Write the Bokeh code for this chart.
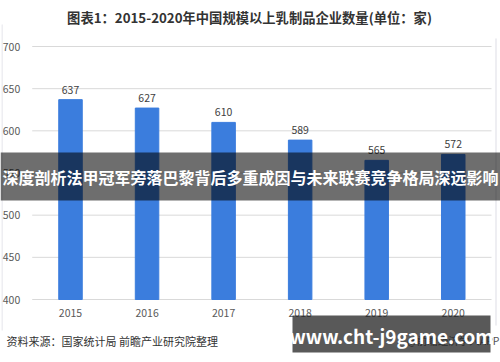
from bokeh.plotting import figure
from bokeh.models import ColumnDataSource, BoxAnnotation, Label, Range1d
from bokeh.embed import file_html
from bokeh.resources import INLINE
from bokeh.core.properties import value

years = ["2015", "2016", "2017", "2018", "2019", "2020"]
counts = [637, 627, 610, 589, 565, 572]
y_ticks = [400, 450, 500, 550, 600, 650, 700]
labels = [str(c) for c in counts]

title_text = "图表1：2015-2020年中国规模以上乳制品企业数量(单位：家)"
source_text = "资料来源：国家统计局 前瞻产业研究院整理"
band_text = "深度剖析法甲冠军旁落巴黎背后多重成因与未来联赛竞争格局深远影响"
site_text = "www.cht-j9game.com"
app_text = "@前瞻经济学人APP"

FONT = "Noto Sans CJK SC"
W, H = 500, 362

# plot area (canvas pixels) used only to set the ranges
PX0, STEP = 70.0, 76.55          # first bar centre, spacing (px)
PY_LO, PY_HI = 299.0, 46.0       # pixel rows of y=400 and y=700
y_lo, y_hi = y_ticks[0], y_ticks[-1]
ppu = (PY_LO - PY_HI) / (y_hi - y_lo)

n = len(years)
xs = list(range(n))
src = ColumnDataSource(dict(x=xs, top=counts, label=labels, year=years,
                            base=[y_lo] * n))

p = figure(width=W, height=H,
           x_range=Range1d(-PX0 / STEP, (W - PX0) / STEP),
           y_range=Range1d(y_lo - (H - PY_LO) / ppu, y_hi + PY_HI / ppu),
           output_backend="svg", toolbar_location=None,
           min_border=0, x_axis_type=None, y_axis_type=None)
p.outline_line_color = None
p.grid.visible = False
p.background_fill_color = "white"
p.border_fill_color = "white"

# faint page borders
p.add_layout(BoxAnnotation(left=1, right=2.5, top=H - 24, bottom=H - 330,
                           left_units="screen", right_units="screen", top_units="screen", bottom_units="screen",
                           fill_color="#EEEEF2", fill_alpha=1, line_color=None, level="underlay"))
p.add_layout(BoxAnnotation(left=494.5, right=496.5, top=H - 38, bottom=H - 325,
                           left_units="screen", right_units="screen", top_units="screen", bottom_units="screen",
                           fill_color="#EEEEF2", fill_alpha=1, line_color=None, level="underlay"))

# gridlines
gsrc = ColumnDataSource(dict(y=y_ticks, x0=[-0.5] * len(y_ticks), x1=[n - 0.5] * len(y_ticks),
                             t=[str(v) for v in y_ticks]))
p.segment(x0="x0", x1="x1", y0="y", y1="y", source=gsrc, line_color="#D9D9D9", line_width=1)

# bars and value labels
p.vbar(x="x", top="top", bottom="base", width=0.307, source=src, color="#3B7DDD")
p.text(x="x", y="top", text="label", source=src, text_align="center", text_baseline="bottom",
       y_offset=-6, text_font_size="10.5px", text_color="#404040", text_font=value(FONT))

# axis tick labels
p.text(x="x0", y="y", text="t", source=gsrc, text_align="right", text_baseline="middle",
       x_offset=-12, text_font_size="10.5px", text_color="#595959", text_font=value(FONT))
p.text(x="x", y="base", text="year", source=src, text_align="center", text_baseline="top",
       y_offset=9, text_font_size="10.5px", text_color="#595959", text_font=value(FONT))

# title and footer (screen units: y measured from canvas bottom)
p.add_layout(Label(x=W / 2 - 1, y=H - 17, x_units="screen", y_units="screen",
                   text=title_text, text_align="center", text_baseline="middle",
                   text_font=FONT, text_font_style="bold", text_font_size="13.3px", text_color="#333333"))
p.add_layout(Label(x=6, y=H - 340, x_units="screen", y_units="screen",
                   text=source_text, text_align="left", text_baseline="middle",
                   text_font=FONT, text_font_size="11px", text_color="#333333"))
p.add_layout(Label(x=499, y=H - 340, x_units="screen", y_units="screen",
                   text=app_text, text_align="right", text_baseline="middle",
                   text_font=FONT, text_font_size="10.5px", text_color="#555555"))

# overlay band
p.add_layout(BoxAnnotation(left=0, right=W, top=H - 152, bottom=H - 200,
                           left_units="screen", right_units="screen", top_units="screen", bottom_units="screen",
                           fill_color="black", fill_alpha=0.57, line_color=None, level="overlay"))
p.add_layout(Label(x=W / 2, y=H - 176, x_units="screen", y_units="screen",
                   text=band_text, text_align="center", text_baseline="middle", level="overlay",
                   text_font=FONT, text_font_style="bold", text_font_size="16px", text_color="white"))

# bottom-right box
p.add_layout(BoxAnnotation(left=292, right=490, top=H - 315, bottom=H - 352,
                           left_units="screen", right_units="screen", top_units="screen", bottom_units="screen",
                           fill_color="#222222", fill_alpha=0.75, line_color=None, level="overlay"))
p.add_layout(Label(x=391, y=H - 335, x_units="screen", y_units="screen",
                   text=site_text, text_align="center", text_baseline="middle", level="overlay",
                   text_font=FONT, text_font_style="bold", text_font_size="19px", text_color="white"))

open("out.html", "w").write(file_html(p, INLINE))
